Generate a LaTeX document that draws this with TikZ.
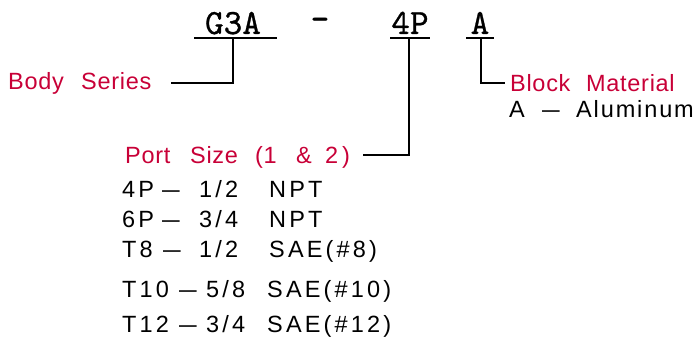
\documentclass[tikz,border=0pt]{standalone}
\usepackage{graphicx}
\usepackage{fontspec}
\setmainfont{Liberation Sans}
\newfontfamily\redfont[LetterSpace=3]{Liberation Sans}
\newfontfamily\listfont[LetterSpace=13.5]{Liberation Sans}
\newfontfamily\alufont[LetterSpace=8]{Liberation Sans}
\newfontfamily\hdrfont[FakeBold=0.8]{lmmono10-regular.otf}
\definecolor{labelred}{RGB}{200,0,55}
\newcommand\dsh{\scalebox{1.35}[1]{–}}
\newcommand\wb[2]{\makebox[#1pt][l]{#2}}
\begin{document}
\begin{tikzpicture}[x=1pt,y=-1pt,
  txt/.style={inner sep=0pt,anchor=base west},
  lbl/.style={txt,text=labelred,font=\redfont\fontsize{23.5}{28}\selectfont},
  item/.style={txt,font=\listfont\fontsize{23.5}{28}\selectfont},
  alu/.style={txt,font=\alufont\fontsize{23.5}{28}\selectfont},
  hdr/.style={inner sep=0pt,anchor=base,font=\hdrfont\fontsize{35.5}{40}\selectfont},
  ln/.style={line width=1.8pt}]
\useasboundingbox (0,0) rectangle (694,342);
% header code
\node[hdr] (g3a) at (233,34) {G3A};
\node[hdr] (dash) at (320,30) {–};
\node[hdr] (p4) at (410,34) {4P};
\node[hdr] (ma) at (480,34) {A};
\draw[ln] (194,37.7) -- (277,37.7);
\draw[ln] (390,37.7) -- (430,37.7);
\draw[ln] (466,37.7) -- (494,37.7);
% labels
\node[lbl] (body) at (8,90) {\wb{73}{Body}Series};
\node[lbl] (block) at (510,92) {\wb{76}{Block}Material};
\node[alu] (alum) at (509,118) {\wb{33}{A}\wb{34}{\dsh}Aluminum};
\node[lbl] (port) at (125,164) {\wb{65}{Port}\wb{65}{Size}\wb{41}{(1}\wb{29}{\&}2\hspace{4pt})};
\node[item] (r1) at (122,197) {\wb{40}{4P}\wb{37}{\dsh}\wb{70}{1/2}NPT};
\node[item] (r2) at (122,227) {\wb{40}{6P}\wb{37}{\dsh}\wb{70}{3/4}NPT};
\node[item] (r3) at (122,257) {\wb{41}{T8}\wb{36}{\dsh}\wb{70}{1/2}SAE(\#8)};
\node[item] (r4) at (122,297) {\wb{57}{T10}\wb{27}{\dsh}\wb{61}{5/8}SAE(\#10)};
\node[item] (r5) at (122,332) {\wb{57}{T12}\wb{27}{\dsh}\wb{61}{3/4}SAE(\#12)};
% connectors
\coordinate (ug) at (233,37.7);
\coordinate (u4) at (409,37.7);
\coordinate (ua) at (481,37.7);
\coordinate (bodyend) at (171,83);
\coordinate (portend) at (363,155);
\coordinate (blockend) at (505,83);
\draw[ln] (ug) |- (bodyend);
\draw[ln] (u4) |- (portend);
\draw[ln] (ua) |- (blockend);
\end{tikzpicture}
\end{document}
